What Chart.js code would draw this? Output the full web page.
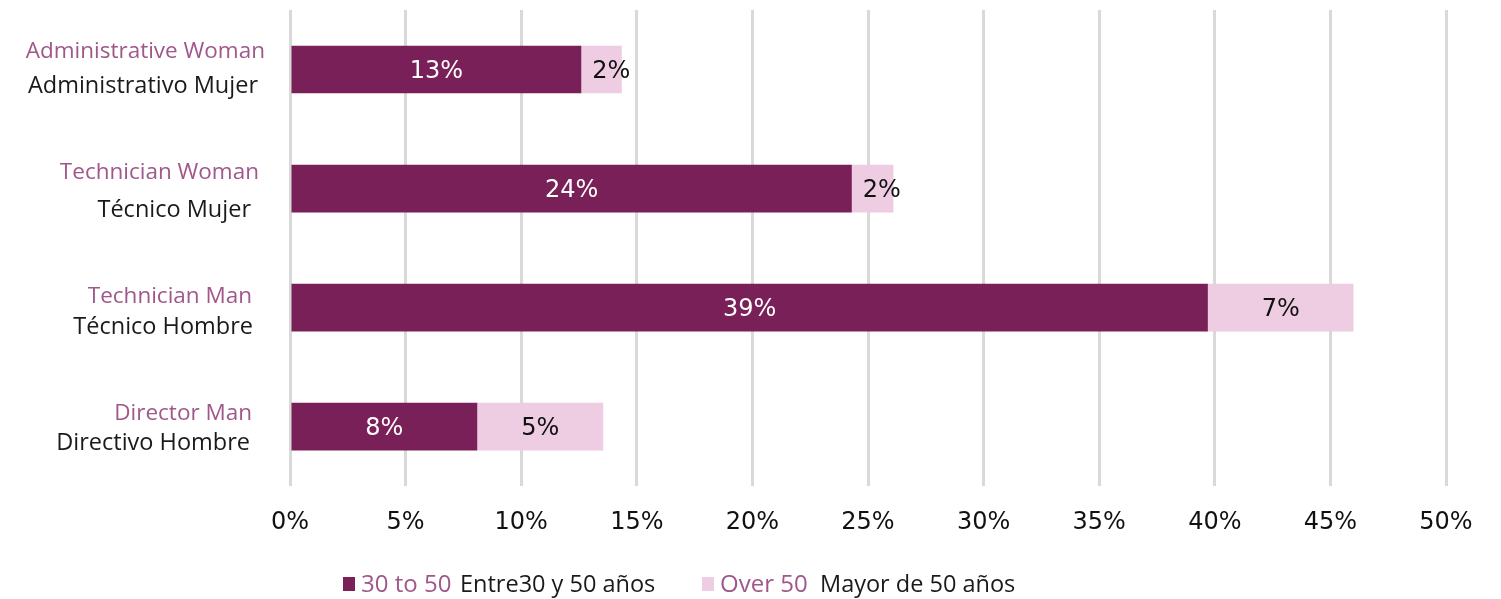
<!DOCTYPE html>
<html>
<head>
<meta charset="utf-8">
<script src="https://cdn.jsdelivr.net/npm/chart.js@4/dist/chart.umd.min.js"></script>
<style>
  html, body { margin: 0; padding: 0; background: #ffffff; }
  #wrap { position: relative; width: 1501px; height: 599px; }
  #legend { position: absolute; left: 0; top: 568px; width: 1501px; height: 30px; font-family: "Open Sans", sans-serif; }
  .lg { position: absolute; top: 0; white-space: nowrap; line-height: 30px; }
  .sw { position: absolute; top: 9px; width: 12px; height: 14px; }
  .pk { color: #a0588a; font-size: 24px; }
  .bk { color: #1a1a1a; font-size: 23.5px; }
</style>
</head>
<body>
<div id="wrap">
  <canvas id="c" width="1501" height="599"></canvas>
  <div id="legend"></div>
</div>
<script>
// ---- data ----
const categoriesEn = ["Administrative Woman", "Technician Woman", "Technician Man", "Director Man"];
const categoriesEs = ["Administrativo Mujer", "Técnico Mujer", "Técnico Hombre", "Directivo Hombre"];
const values30to50 = [12.6, 24.3, 39.7, 8.1];
const valuesOver50 = [1.75, 1.8, 6.3, 5.45];
const labels30to50 = ["13%", "24%", "39%", "8%"];
const labelsOver50 = ["2%", "2%", "7%", "5%"];
const seriesNamesEn = ["30 to 50", "Over 50"];
const seriesNamesEs = ["Entre30 y 50 años", "Mayor de 50 años"];
const xTicks = [0, 5, 10, 15, 20, 25, 30, 35, 40, 45, 50];

// ---- layout / style (not data) ----
const DARK = "#7a2058";
const LIGHT = "#eecce1";
const PINK_TEXT = "#a0588a";
const enDy = [-18, -16, -11, -13];
const esDy = [17, 22, 20, 17];
const enRight = [265, 259, 252, 252];
const esRight = [258, 251, 253, 250];

const catLabelPlugin = {
  id: "catLabels",
  afterDraw(chart) {
    const ctx = chart.ctx;
    const y = chart.scales.y;
    ctx.save();
    ctx.textAlign = "right";
    ctx.textBaseline = "middle";
    categoriesEn.forEach((lab, i) => {
      const py = y.getPixelForValue(i);
      ctx.font = "22.5px 'Open Sans', sans-serif";
      ctx.fillStyle = PINK_TEXT;
      ctx.fillText(lab, enRight[i], py + enDy[i]);
      ctx.font = "23.5px 'Open Sans', sans-serif";
      ctx.fillStyle = "#1a1a1a";
      ctx.fillText(categoriesEs[i], esRight[i], py + esDy[i]);
    });
    ctx.restore();
  }
};

const dataLabelPlugin = {
  id: "dataLabels",
  afterDatasetsDraw(chart) {
    const ctx = chart.ctx;
    ctx.save();
    ctx.textAlign = "center";
    ctx.textBaseline = "middle";
    ctx.font = "24px 'DejaVu Sans', sans-serif";
    const sets = [labels30to50, labelsOver50];
    const colors = ["#ffffff", "#111111"];
    sets.forEach((labs, di) => {
      const meta = chart.getDatasetMeta(di);
      meta.data.forEach((bar, i) => {
        const w = ctx.measureText(labs[i]).width;
        const left = Math.min(bar.x, bar.base);
        const cx = Math.max((bar.x + bar.base) / 2, left + w / 2 + 11);
        ctx.fillStyle = colors[di];
        ctx.fillText(labs[i], cx, bar.y + 2);
      });
    });
    ctx.restore();
  }
};

new Chart(document.getElementById("c"), {
  type: "bar",
  data: {
    labels: categoriesEn,
    datasets: [
      { label: seriesNamesEn[0], data: values30to50, backgroundColor: DARK, barPercentage: 0.8, categoryPercentage: 0.5 },
      { label: seriesNamesEn[1], data: valuesOver50, backgroundColor: LIGHT, barPercentage: 0.8, categoryPercentage: 0.5 }
    ]
  },
  options: {
    indexAxis: "y",
    responsive: false,
    animation: false,
    layout: { padding: { left: 282, right: 55, top: 10, bottom: 40 } },
    plugins: { legend: { display: false }, tooltip: { enabled: false } },
    scales: {
      x: {
        stacked: true,
        min: 0, max: 50,
        afterBuildTicks(scale) { scale.ticks = xTicks.map(v => ({ value: v })); },
        grid: { color: "#d9d9d9", lineWidth: 3, drawTicks: false },
        border: { display: false },
        ticks: { padding: 22, color: "#111111", font: { family: "'DejaVu Sans', sans-serif", size: 24 }, callback: v => v + "%" }
      },
      y: {
        stacked: true,
        grid: { display: false },
        border: { display: false },
        ticks: { display: false }
      }
    }
  },
  plugins: [catLabelPlugin, dataLabelPlugin]
});

// HTML legend
const legend = document.getElementById("legend");
const items = [
  { sw: DARK, swX: 343, pkX: 361, bkX: 460 },
  { sw: LIGHT, swX: 702, pkX: 720, bkX: 820 }
];
items.forEach((it, i) => {
  const s = document.createElement("span");
  s.className = "sw"; s.style.left = it.swX + "px"; s.style.background = it.sw;
  legend.appendChild(s);
  const p = document.createElement("span");
  p.className = "lg pk"; p.style.left = it.pkX + "px"; p.textContent = seriesNamesEn[i];
  legend.appendChild(p);
  const b = document.createElement("span");
  b.className = "lg bk"; b.style.left = it.bkX + "px"; b.textContent = seriesNamesEs[i];
  legend.appendChild(b);
});
</script>
</body>
</html>
